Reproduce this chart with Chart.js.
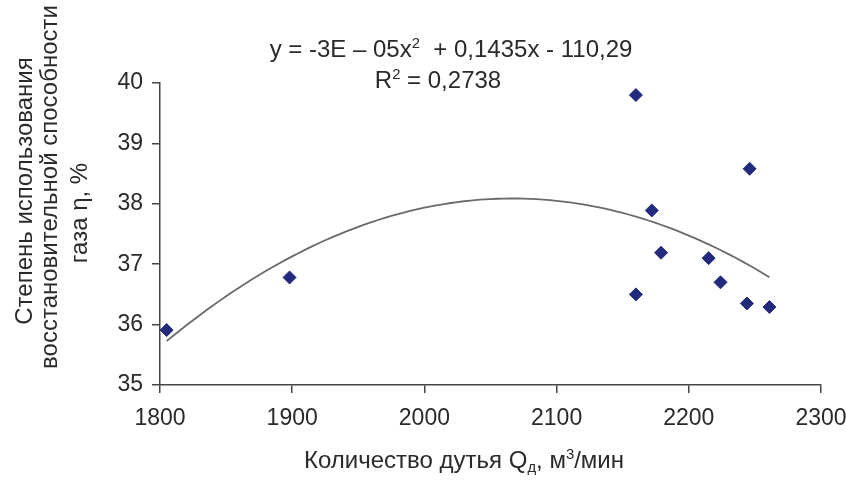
<!DOCTYPE html>
<html>
<head>
<meta charset="utf-8">
<script src="https://cdn.jsdelivr.net/npm/chart.js@4/dist/chart.umd.min.js"></script>
<style>
  html, body { margin: 0; padding: 0; background: #fff; }
  #wrap { width: 846px; height: 483px; }
</style>
</head>
<body>
<div id="wrap"><canvas id="chart" width="846" height="483"></canvas></div>
<script>
// blast volume Q, m3/min  vs  gas reduction usage degree, %
const blastVolume = [1805, 1898, 2160, 2160, 2172, 2179, 2215, 2224, 2244, 2246, 2261];
const gasUsage    = [35.91, 36.78, 39.80, 36.50, 37.89, 37.19, 37.10, 36.70, 36.35, 38.58, 36.29];
const xTicks = [1800, 1900, 2000, 2100, 2200, 2300];
const yTicks = [35, 36, 37, 38, 39, 40];
const yTitleLines = ['Степень использования', 'восстановительной способности', 'газа η, %'];

const FONT = '"Liberation Sans", Arial, sans-serif';
const TEXT_COLOR = '#2a2a2a';
const AXIS_COLOR = '#444';

// quadratic least squares trend (same as the excel trendline)
function polyFit2(xs, ys) {
    const n = xs.length;
    const mx = xs.reduce((s, v) => s + v, 0) / n;
    const s = [0, 0, 0, 0, 0];
    const t = [0, 0, 0];
    xs.forEach((x, i) => {
        const u = x - mx;
        let p = 1;
        for (let k = 0; k < 5; k++) { s[k] += p; p *= u; }
        t[0] += ys[i]; t[1] += u * ys[i]; t[2] += u * u * ys[i];
    });
    const det = (m) => m[0][0] * (m[1][1] * m[2][2] - m[1][2] * m[2][1])
        - m[0][1] * (m[1][0] * m[2][2] - m[1][2] * m[2][0])
        + m[0][2] * (m[1][0] * m[2][1] - m[1][1] * m[2][0]);
    const A = [[s[0], s[1], s[2]], [s[1], s[2], s[3]], [s[2], s[3], s[4]]];
    const D = det(A);
    const c = [0, 1, 2].map(j => {
        const M = A.map((row, i) => row.map((v, k) => (k === j ? t[i] : v)));
        return det(M) / D;
    });
    return x => c[0] + c[1] * (x - mx) + c[2] * (x - mx) * (x - mx);
}

const trend = polyFit2(blastVolume, gasUsage);
const xMin = Math.min(...blastVolume);
const xMax = Math.max(...blastVolume);
const trendPoints = [];
for (let x = xMin; x <= xMax; x += 5) trendPoints.push({ x: x, y: trend(x) });
trendPoints.push({ x: xMax, y: trend(xMax) });

// draws text with a small raised / lowered piece
function drawRich(ctx, parts, cx, baseline, size) {
    let total = 0;
    parts.forEach(p => {
        ctx.font = (p.small ? size * 0.62 : size) + 'px ' + FONT;
        p.w = ctx.measureText(p.t).width;
        total += p.w;
    });
    let x = cx - total / 2;
    ctx.textAlign = 'left';
    parts.forEach(p => {
        ctx.font = (p.small ? size * 0.62 : size) + 'px ' + FONT;
        let y = baseline;
        if (p.small === 'sup') y -= size * 0.38;
        if (p.small === 'sub') y += size * 0.18;
        ctx.fillText(p.t, x, y);
        x += p.w;
    });
}

const textPlugin = {
    id: 'chartTexts',
    afterDraw(chart) {
        const ctx = chart.ctx;
        ctx.save();
        ctx.fillStyle = TEXT_COLOR;
        ctx.textBaseline = 'alphabetic';

        // y axis title, three rotated lines
        const lineX = [32, 57, 87];
        const lineY = [191, 187, 213];
        ctx.font = '24px ' + FONT;
        ctx.textAlign = 'center';
        yTitleLines.forEach((line, i) => {
            ctx.save();
            ctx.translate(lineX[i], lineY[i]);
            ctx.rotate(-Math.PI / 2);
            ctx.fillText(line, 0, 0);
            ctx.restore();
        });

        // x axis title
        drawRich(ctx, [
            { t: 'Количество дутья Q' },
            { t: 'д', small: 'sub' },
            { t: ', м' },
            { t: '3', small: 'sup' },
            { t: '/мин' }
        ], 464, 468, 24);

        // trendline equation
        drawRich(ctx, [
            { t: 'y = -3E – 05x' },
            { t: '2', small: 'sup' },
            { t: '  + 0,1435x - 110,29' }
        ], 451, 57, 24);
        drawRich(ctx, [
            { t: 'R' },
            { t: '2', small: 'sup' },
            { t: ' = 0,2738' }
        ], 438, 88, 24);

        ctx.restore();
    }
};

const ctx = document.getElementById('chart').getContext('2d');
new Chart(ctx, {
    type: 'scatter',
    data: {
        datasets: [
            {
                label: 'trend',
                type: 'line',
                data: trendPoints,
                borderColor: '#6a6a6a',
                borderWidth: 1.8,
                pointRadius: 0,
                fill: false,
                tension: 0,
                order: 2
            },
            {
                label: 'points',
                data: blastVolume.map((x, i) => ({ x: x, y: gasUsage[i] })),
                pointStyle: 'rectRot',
                pointRadius: 6.5,
                backgroundColor: '#222a7e',
                borderColor: '#222a7e',
                borderWidth: 1,
                order: 1
            }
        ]
    },
    options: {
        responsive: false,
        animation: false,
        clip: false,
        layout: { padding: { left: 0, right: 25, top: 83, bottom: 0 } },
        plugins: {
            legend: { display: false },
            tooltip: { enabled: false }
        },
        scales: {
            x: {
                type: 'linear',
                min: xTicks[0],
                max: xTicks[xTicks.length - 1],
                afterBuildTicks: scale => { scale.ticks = xTicks.map(v => ({ value: v })); },
                ticks: {
                    font: { family: FONT, size: 23 },
                    color: TEXT_COLOR,
                    padding: 12,
                    maxRotation: 0,
                    callback: v => String(v)
                },
                grid: { drawOnChartArea: false, drawTicks: true, tickLength: 8, color: AXIS_COLOR, lineWidth: 1.5 },
                border: { display: true, color: AXIS_COLOR, width: 1.5 },
                afterFit: scale => { scale.height = 98; scale.paddingLeft = 0; scale.paddingRight = 0; }
            },
            y: {
                type: 'linear',
                min: yTicks[0],
                max: yTicks[yTicks.length - 1],
                afterBuildTicks: scale => { scale.ticks = yTicks.map(v => ({ value: v })); },
                ticks: {
                    font: { family: FONT, size: 23 },
                    color: TEXT_COLOR,
                    padding: 9,
                    callback: v => String(v)
                },
                grid: { drawOnChartArea: false, drawTicks: true, tickLength: 8, color: AXIS_COLOR, lineWidth: 1.5 },
                border: { display: true, color: AXIS_COLOR, width: 1.5 },
                afterFit: scale => { scale.width = 160; scale.paddingTop = 0; scale.paddingBottom = 0; }
            }
        }
    },
    plugins: [textPlugin]
});
</script>
</body>
</html>
